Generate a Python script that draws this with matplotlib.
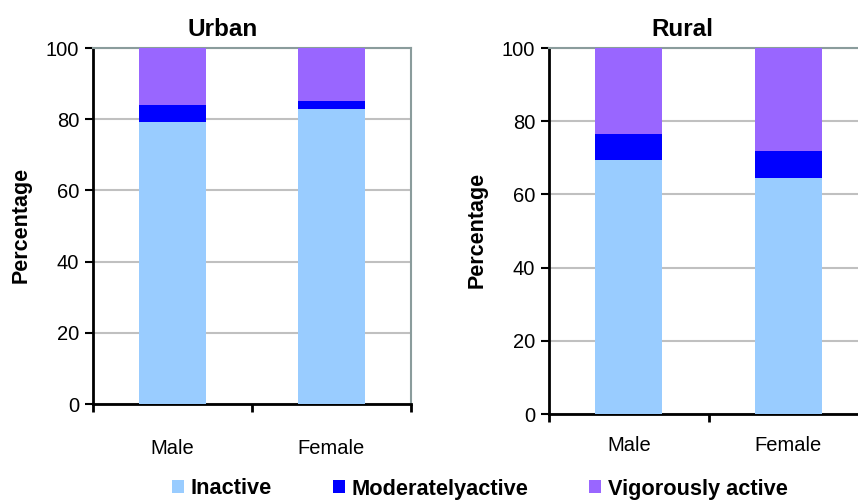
import matplotlib
matplotlib.use('Agg')
import matplotlib.pyplot as plt
from matplotlib.patches import Patch

plt.rcParams['font.family'] = ['Liberation Sans', 'DejaVu Sans']

# percentages by sex, stacked inactive / moderate / vigorous
sexes = ['Male', 'Female']
levels = ['Inactive', 'Moderatelyactive', 'Vigorously active']
colors = ['#99ccff', '#0000ff', '#9966ff']

urban_inactive = [79.3, 83.0]
urban_moderate = [4.7, 2.0]
urban_vigorous = [16.0, 15.0]

rural_inactive = [69.4, 64.5]
rural_moderate = [7.1, 7.4]
rural_vigorous = [23.5, 28.1]

fig = plt.figure(figsize=(8.58, 5.0), dpi=100)
ax1 = fig.add_axes([0.1084, 0.192, 0.3706, 0.712])
ax2 = fig.add_axes([0.6399, 0.172, 0.3718, 0.732])


def stacked(ax, inactive, moderate, vigorous, xpad):
    x = range(len(sexes))
    w = 0.42
    ax.bar(x, inactive, w, color=colors[0], zorder=3)
    base = [a for a in inactive]
    ax.bar(x, moderate, w, bottom=base, color=colors[1], zorder=3)
    base = [a + b for a, b in zip(inactive, moderate)]
    ax.bar(x, vigorous, w, bottom=base, color=colors[2], zorder=3)

    ax.set_xlim(-0.5, 1.5)
    ax.set_ylim(0, 100)
    ax.set_yticks([0, 20, 40, 60, 80, 100])
    ax.set_xticks([-0.5, 0.5, 1.5])
    ax.set_xticklabels([])
    ax.set_xticks(list(x), minor=True)
    ax.set_xticklabels(sexes, minor=True)
    ax.tick_params(axis='x', which='minor', length=0, pad=xpad, labelsize=14.5)
    ax.tick_params(axis='x', which='major', length=6, width=2, direction='out')
    ax.tick_params(axis='y', length=6, width=1.5, labelsize=14.5, pad=4)

    ax.yaxis.grid(True, color='#c0c0c0', linewidth=1.5, zorder=0)
    for s in ['left', 'bottom']:
        ax.spines[s].set_linewidth(2)
        ax.spines[s].set_color('black')
    for s in ['top', 'right']:
        ax.spines[s].set_linewidth(1.5)
        ax.spines[s].set_color('#8a9c9c')
    ax.set_axisbelow(True)


stacked(ax1, urban_inactive, urban_moderate, urban_vigorous, 25)
stacked(ax2, rural_inactive, rural_moderate, rural_vigorous, 16)

fig.text(223 / 858, 1 - 29 / 500, 'Urban', ha='center', va='center',
         fontsize=17.5, fontweight='bold')
fig.text(682 / 858, 1 - 29 / 500, 'Rural', ha='center', va='center',
         fontsize=17.5, fontweight='bold')
fig.text(21 / 858, 1 - 225 / 500, 'Percentage', rotation=90, ha='center',
         va='center', fontsize=15.5, fontweight='bold')
fig.text(477 / 858, 1 - 230 / 500, 'Percentage', rotation=90, ha='center',
         va='center', fontsize=15.5, fontweight='bold')

handles = [Patch(facecolor=c, edgecolor='none') for c in colors]
fig.legend(handles, levels, loc='center', bbox_to_anchor=(0.559, 1 - 489 / 500),
           ncol=3, frameon=False, prop={'weight': 'bold', 'size': 15.7},
           handlelength=0.55, handleheight=0.55, handletextpad=0.3,
           columnspacing=2.8)

fig.savefig('out.png', dpi=100)
